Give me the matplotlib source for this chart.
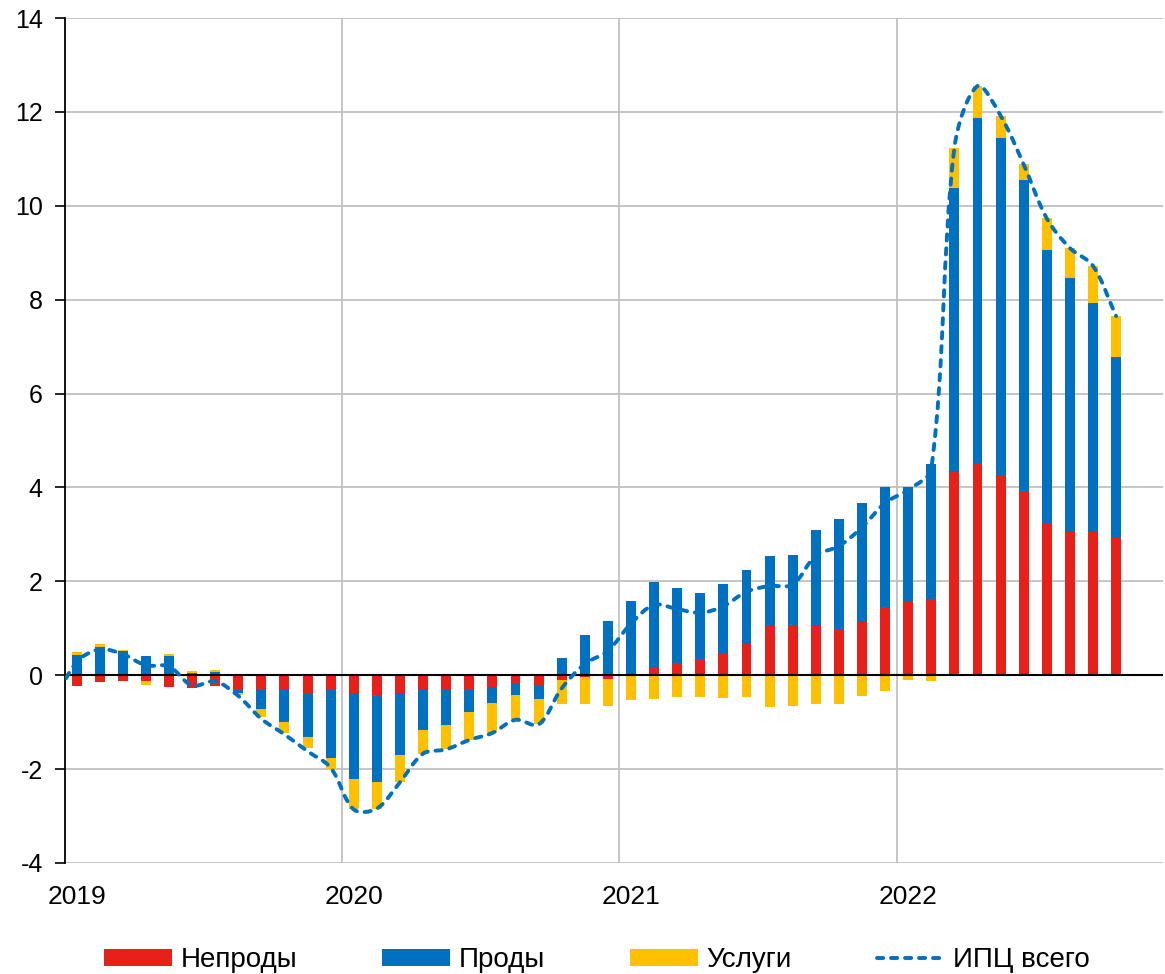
import numpy as np
import matplotlib
matplotlib.use("Agg")
import matplotlib.pyplot as plt
from matplotlib.path import Path
from matplotlib.patches import PathPatch
from matplotlib.lines import Line2D

plt.rcParams['font.family'] = ['Liberation Sans', 'DejaVu Sans']

# ---- data (Jan 2019 .. Oct 2022, monthly) ----
years = ["2019", "2020", "2021", "2022"]

nonfood = [-0.22, -0.14, -0.12, -0.12, -0.25, -0.27, -0.23, -0.31, -0.29, -0.31, -0.38, -0.31,
           -0.40, -0.42, -0.38, -0.29, -0.31, -0.31, -0.25, -0.18, -0.20, -0.11, -0.04, -0.07,
           0.03, 0.17, 0.27, 0.34, 0.47, 0.69, 1.04, 1.08, 1.04, 0.98, 1.15, 1.46,
           1.56, 1.62, 4.36, 4.51, 4.25, 3.91, 3.24, 3.06, 3.06, 2.93]
food = [0.44, 0.60, 0.52, 0.41, 0.41, 0.04, 0.07, -0.07, -0.42, -0.69, -0.94, -1.45,
        -1.82, -1.86, -1.33, -0.88, -0.75, -0.47, -0.34, -0.25, -0.30, 0.36, 0.86, 1.16,
        1.55, 1.81, 1.58, 1.41, 1.48, 1.55, 1.49, 1.48, 2.06, 2.35, 2.51, 2.54,
        2.46, 2.88, 6.02, 7.35, 7.20, 6.63, 5.81, 5.40, 4.87, 3.84]
services = [0.06, 0.06, 0.02, -0.09, 0.05, 0.06, 0.05, -0.05, -0.18, -0.23, -0.24, -0.24,
            -0.64, -0.56, -0.57, -0.50, -0.52, -0.59, -0.64, -0.51, -0.53, -0.51, -0.57, -0.58,
            -0.53, -0.51, -0.47, -0.46, -0.49, -0.46, -0.67, -0.65, -0.62, -0.61, -0.45, -0.33,
            -0.10, -0.13, 0.86, 0.69, 0.47, 0.34, 0.68, 0.64, 0.79, 0.88]
# CPI total, Dec 2018 .. Oct 2022
cpi = [-0.60,
       0.28, 0.55, 0.45, 0.21, 0.19, -0.22, -0.13, -0.44, -0.93, -1.26, -1.62, -1.97,
       -2.86, -2.84, -2.28, -1.67, -1.58, -1.38, -1.23, -0.95, -1.05, -0.28, 0.24, 0.52,
       1.10, 1.50, 1.41, 1.33, 1.47, 1.78, 1.90, 1.93, 2.55, 2.75, 3.15, 3.67,
       3.95, 4.40, 11.24, 12.55, 11.92, 10.88, 9.73, 9.10, 8.72, 7.65]

labels = ["Непроды", "Проды", "Услуги", "ИПЦ всего"]
colors = ["#E8201A", "#0070C0", "#FFC000"]
line_color = "#0070C0"

# ---- figure ----
W, H = 1165, 974
fig = plt.figure(figsize=(W / 100, H / 100), dpi=100)
ax = fig.add_axes([65 / W, (H - 863) / H, (1163 - 65) / W, 845 / H])

n = len(nonfood)
x = np.arange(n)
pos = np.zeros(n)
neg = np.zeros(n)
for vals, c, lab in zip([nonfood, food, services], colors, labels[:3]):
    v = np.array(vals)
    bottoms = np.where(v >= 0, pos, neg)
    ax.bar(x, v, bottom=bottoms, width=0.43, color=c, label=lab, zorder=3,
           linewidth=0)
    pos += np.clip(v, 0, None)
    neg += np.clip(v, None, 0)

# axes limits first (needed for display-space smoothing)
ax.set_xlim(-0.5, 47.03)
ax.set_ylim(-4, 14)

# smoothed CPI line (Excel-like smoothing, computed in display space)
xl = np.arange(-1, n)
yl = np.array(cpi)
pts = ax.transData.transform(np.column_stack([xl, yl]))
m = len(pts)
verts = [pts[0]]
codes = [Path.MOVETO]
for i in range(m - 1):
    p0 = pts[i - 1] if i > 0 else pts[i]
    p1 = pts[i]
    p2 = pts[i + 1]
    p3 = pts[i + 2] if i + 2 < m else pts[i + 1]
    d01 = np.hypot(*(p1 - p0))
    d12 = np.hypot(*(p2 - p1))
    d23 = np.hypot(*(p3 - p2))
    f1 = d12 / (d01 + d12) if (d01 + d12) > 0 else 0
    f2 = d12 / (d12 + d23) if (d12 + d23) > 0 else 0
    c1 = p1 + (p2 - p0) * f1 / 3.0
    c2 = p2 - (p3 - p1) * f2 / 3.0
    verts += [c1, c2, p2]
    codes += [Path.CURVE4] * 3
verts = ax.transData.inverted().transform(np.array(verts))
dash = (0, (1.6, 2.0))
patch = PathPatch(Path(verts, codes), fill=False, edgecolor=line_color,
                  linewidth=2.8, linestyle=dash, capstyle='round', zorder=5)
ax.add_patch(patch)

# axes styling
ax.set_yticks(np.arange(-4, 15, 2))
ax.set_yticklabels([str(v) for v in range(-4, 15, 2)])
ax.set_xticks([0, 12, 24, 36])
ax.set_xticklabels(years)
ax.set_xticks([11.5, 23.5, 35.5], minor=True)
ax.tick_params(axis='x', which='both', length=0, labelsize=19, pad=16)
ax.tick_params(axis='y', length=7, width=1.2, direction='out', labelsize=18, pad=9,
               color='black')
ax.grid(axis='y', color='#C0C0C0', linewidth=1.3, zorder=0)
ax.grid(axis='x', which='minor', color='#C0C0C0', linewidth=1.3, zorder=0)
ax.grid(axis='x', which='major', visible=False)
ax.set_axisbelow(True)
ax.axhline(0, color='black', linewidth=1.5, zorder=4)
for s in ['top', 'right', 'bottom']:
    ax.spines[s].set_visible(False)
ax.spines['left'].set_color('black')
ax.spines['left'].set_linewidth(1.3)

# legend
handles, _ = ax.get_legend_handles_labels()
handles.append(Line2D([], [], color=line_color, linewidth=2.8, linestyle=dash,
                      dash_capstyle='round'))
fig.legend(handles, labels, loc='center', bbox_to_anchor=(597 / W, 1 - 960 / H),
           ncol=4, frameon=False, fontsize=20, handlelength=2.45, handleheight=0.55,
           handletextpad=0.3, columnspacing=3.07, borderpad=0)

fig.savefig("out.png", dpi=100)
